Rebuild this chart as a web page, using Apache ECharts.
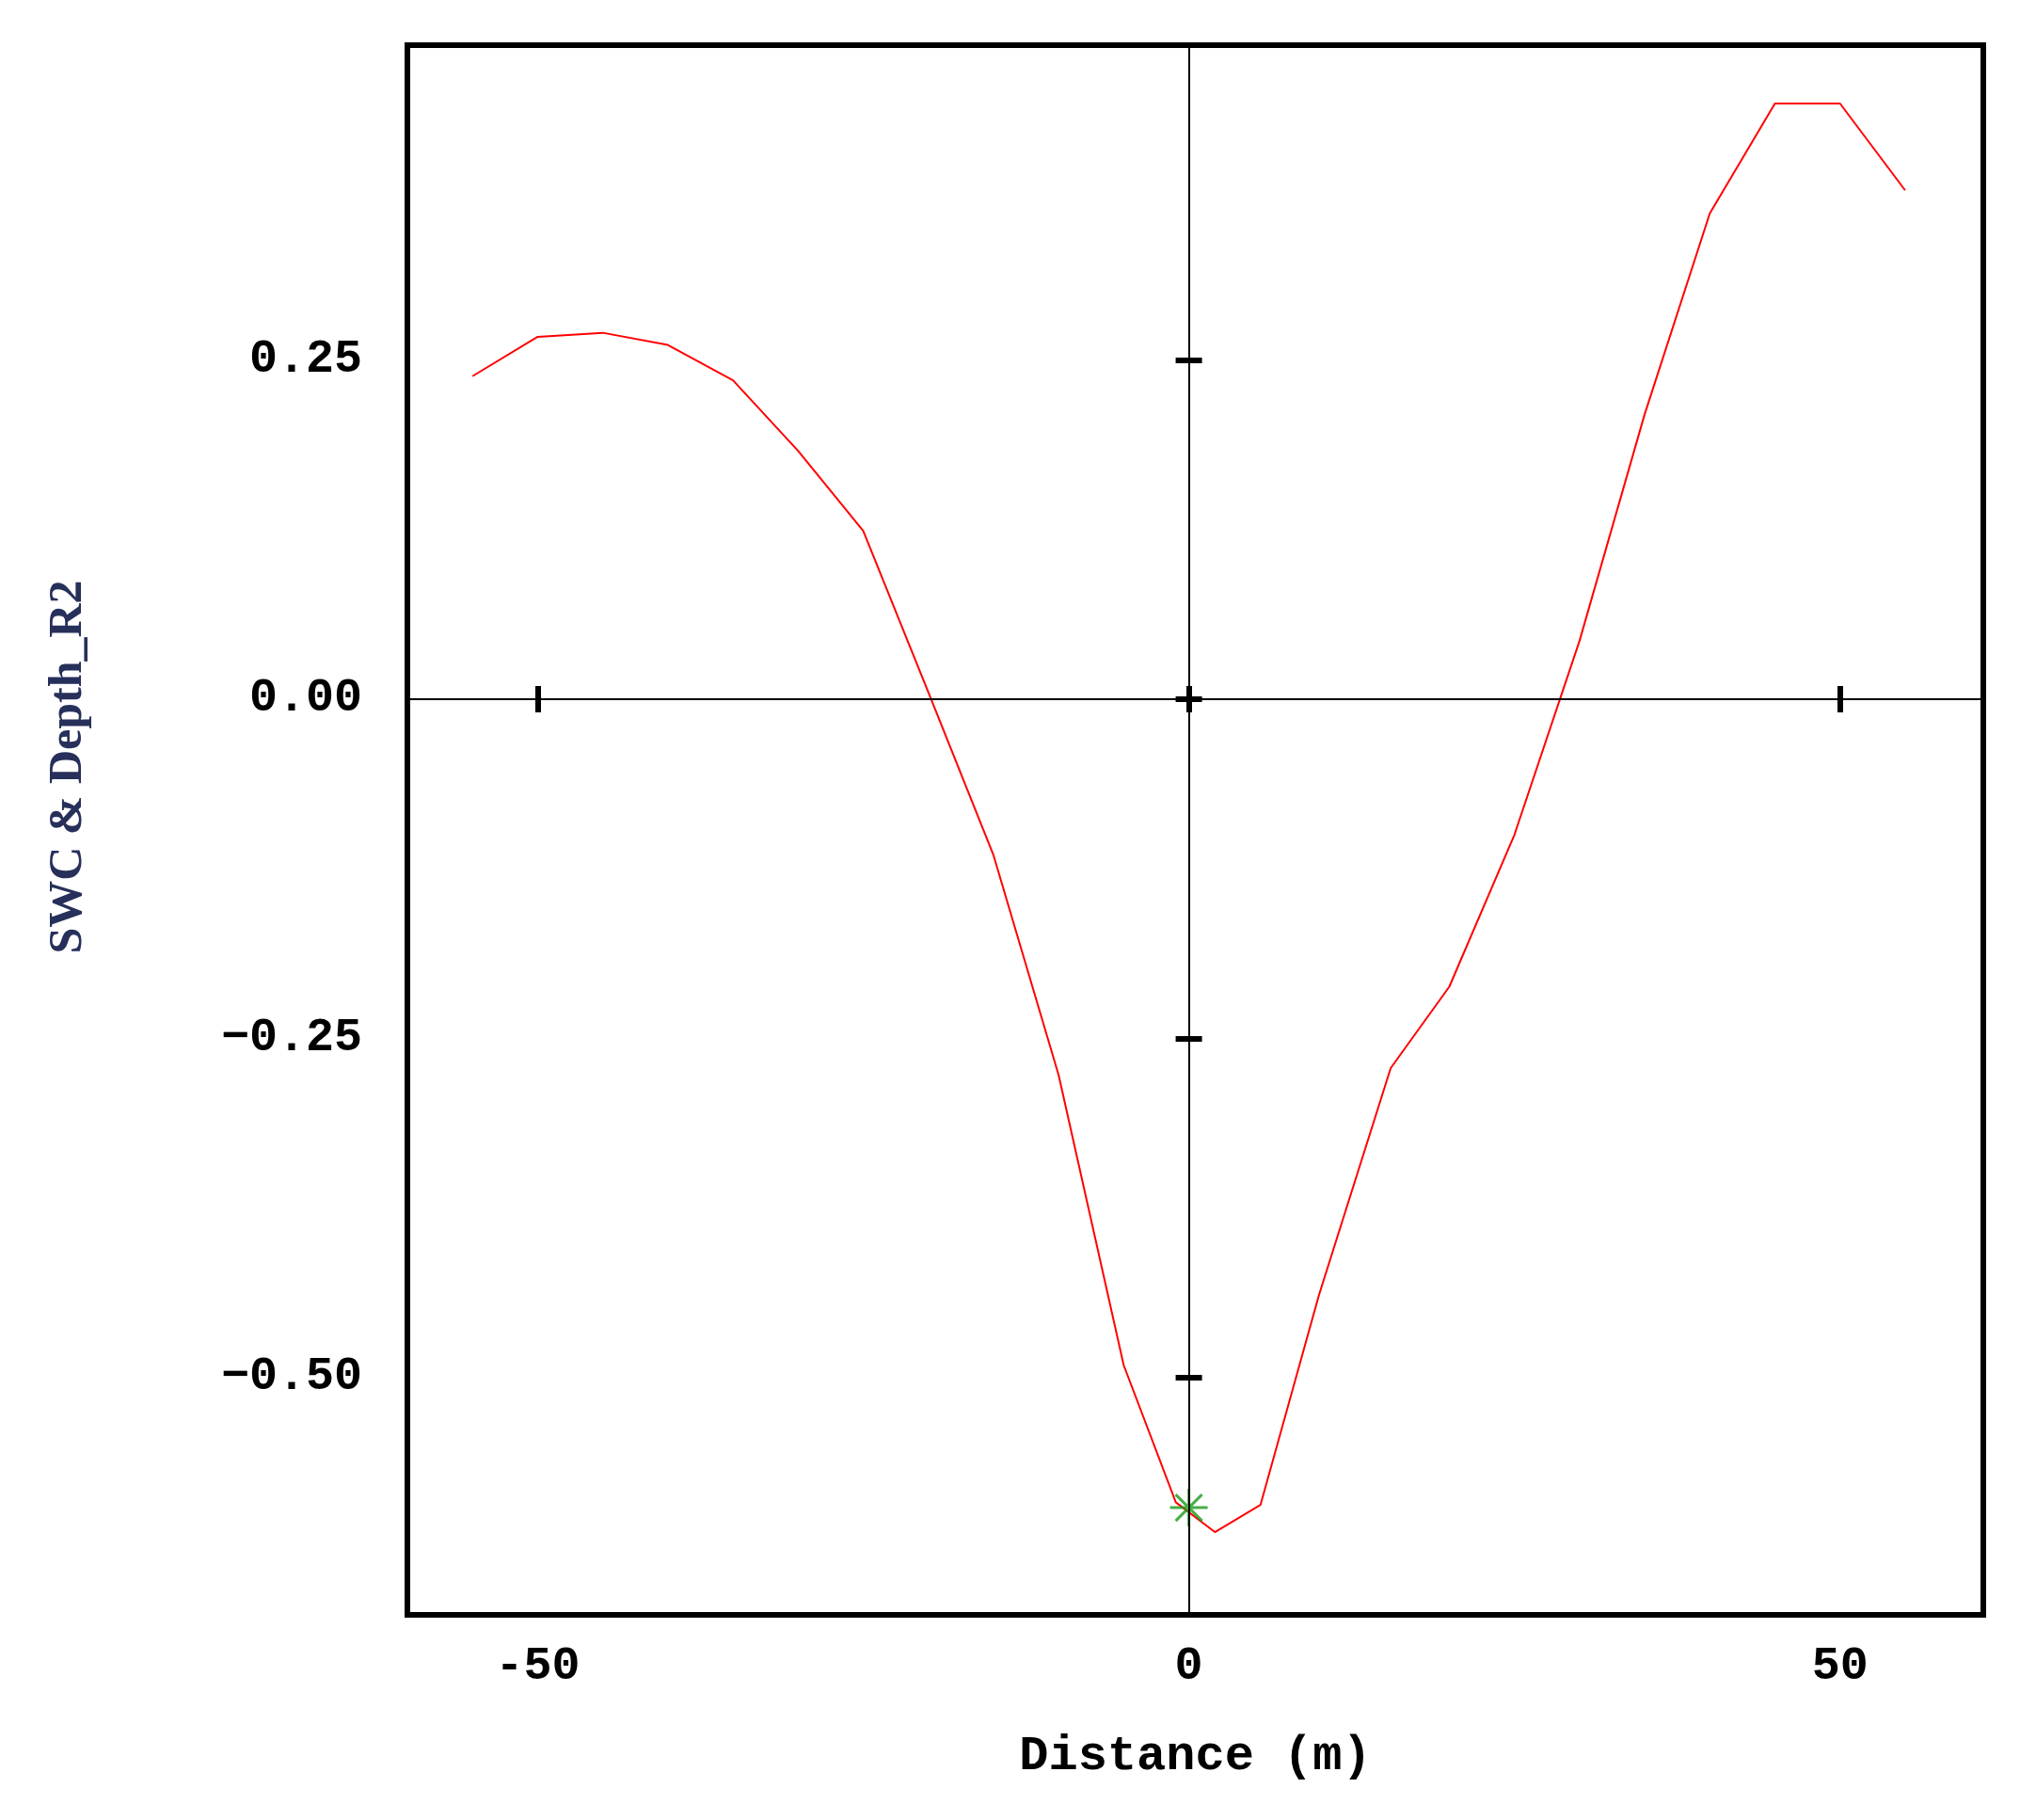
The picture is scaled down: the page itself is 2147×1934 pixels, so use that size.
<!DOCTYPE html>
<html lang="en">
<head>
    <meta charset="UTF-8">
    <title>SWC & Depth_R2</title>
    <script src="https://cdn.jsdelivr.net/npm/echarts@6/dist/echarts.min.js"></script>
    <style>html,body{margin:0;padding:0;background:#fff;}</style>
</head>
<body>
<div id="chart" style="width:2147px;height:1934px;"></div>
<script type="text/javascript">
    // 数据
    var distance = [-55, -50, -45, -40, -35, -30, -25, -20, -15, -10, -5, -1, 2, 5.5, 10, 15.5, 20, 25, 30, 35, 40, 45, 50, 55];
    var swc = [0.238, 0.267, 0.270, 0.261, 0.235, 0.183, 0.124, 0.005, -0.115, -0.277, -0.491, -0.592, -0.614, -0.594, -0.439, -0.272, -0.212, -0.100, 0.043, 0.210, 0.358, 0.439, 0.439, 0.375];
    var starPoint = [[0, -0.596]];
    var xTicks = [-50, 0, 50];
    var yTicks = [-0.5, -0.25, 0, 0.25];

    var lineData = distance.map(function (x, i) { return [x, swc[i]]; });
    var mono = '"Liberation Mono", "DejaVu Sans Mono", monospace';

    var tickOnly = {
        axisLine: {show: false},
        axisLabel: {show: false},
        splitLine: {show: false},
        axisTick: {show: true, inside: true, length: 14, lineStyle: {color: '#000', width: 6}}
    };

    var chart = echarts.init(document.getElementById('chart'));
    var option = {
        animation: false,
        grid: {left: 433, right: 39, top: 48, bottom: 218, show: true, borderColor: '#000', borderWidth: 6, backgroundColor: '#fff'},
        xAxis: [
            Object.assign({
                type: 'value', min: -60, max: 61, position: 'bottom',
                name: 'Distance (m)', nameLocation: 'middle', nameGap: 125,
                nameTextStyle: {fontFamily: mono, fontWeight: 'bold', fontSize: 52, color: '#000'},
                axisLabel: {show: true, customValues: xTicks, fontFamily: mono, fontWeight: 'bold', fontSize: 50, color: '#000', margin: 30}
            }, {axisLine: {show: false}, splitLine: {show: false},
                axisTick: {show: true, inside: true, length: 14, customValues: xTicks, lineStyle: {color: '#000', width: 6}}}),
            Object.assign({type: 'value', min: -60, max: 61, position: 'top'}, tickOnly,
                {axisTick: {show: true, inside: true, length: 14, customValues: xTicks, lineStyle: {color: '#000', width: 6}}})
        ],
        yAxis: [
            {
                type: 'value', min: -0.675, max: 0.482, position: 'left',
                name: 'SWC & Depth_R2', nameLocation: 'middle', nameGap: 335, nameRotate: 90,
                nameTextStyle: {fontFamily: '"Liberation Serif", "DejaVu Serif", serif', fontWeight: 'bold', fontSize: 50, color: '#26305a', padding: [0, 0, 0, 134]},
                axisLine: {show: false}, splitLine: {show: false},
                axisTick: {show: true, inside: true, length: 14, customValues: yTicks, lineStyle: {color: '#000', width: 6}},
                axisLabel: {show: true, customValues: yTicks, fontFamily: mono, fontWeight: 'bold', fontSize: 50, color: '#000', margin: 48,
                    formatter: function (v) { return (v < 0 ? '\u2212' : '') + Math.abs(v).toFixed(2); }}
            },
            Object.assign({type: 'value', min: -0.675, max: 0.482, position: 'right'}, tickOnly,
                {axisTick: {show: true, inside: true, length: 14, customValues: yTicks, lineStyle: {color: '#000', width: 6}}})
        ],
        series: [
            {
                type: 'line', data: lineData, symbol: 'none',
                lineStyle: {color: '#ff0000', width: 2},
                markLine: {
                    silent: true, symbol: ['none', 'none'], label: {show: false},
                    lineStyle: {color: '#000', width: 2, type: 'solid'},
                    data: [{xAxis: 0}, {yAxis: 0}]
                },
                z: 3
            },
            {
                type: 'scatter', data: starPoint,
                symbol: 'path://M0,-10L0,10M-10,0L10,0M-7,-7L7,7M-7,7L7,-7',
                symbolSize: 40,
                itemStyle: {color: 'none', borderColor: '#1a9a1a', borderWidth: 3},
                z: 4
            }
        ]
    };
    chart.setOption(option);
</script>
</body>
</html>
